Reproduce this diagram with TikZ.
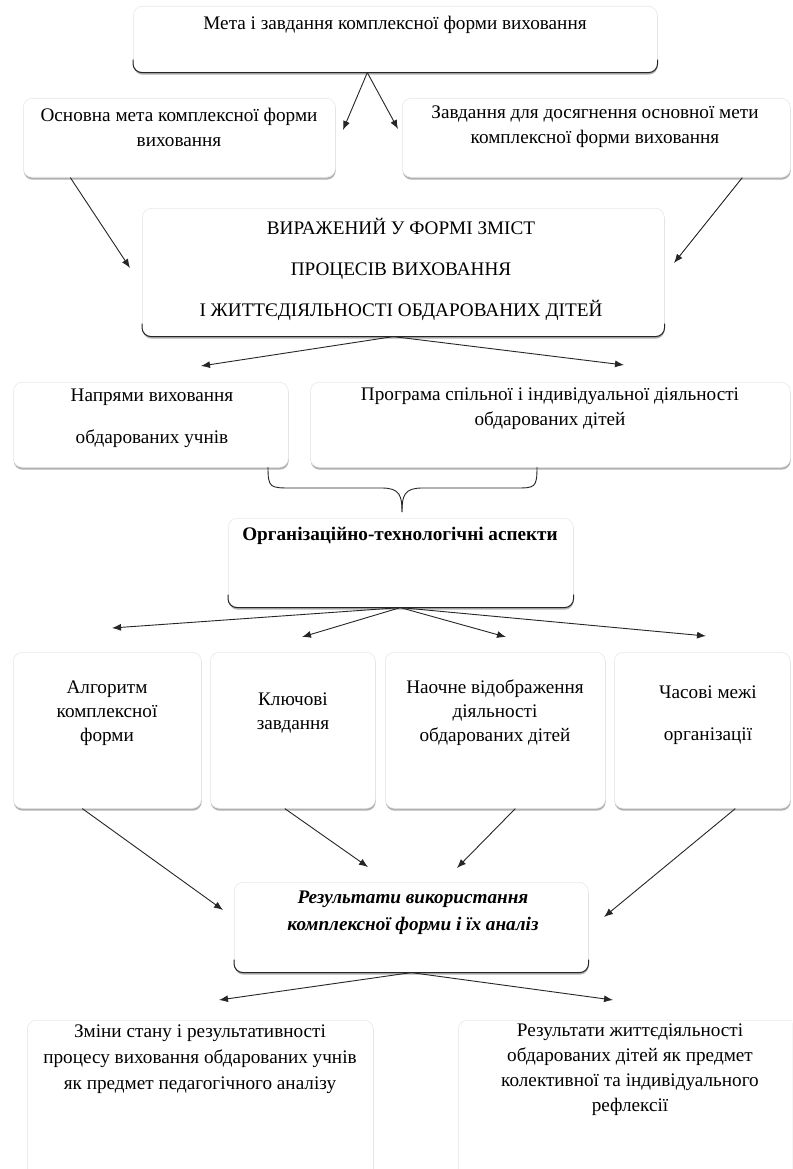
\documentclass[tikz,border=0pt]{standalone}
\usepackage{fontspec}
\setmainfont{Liberation Serif}
\usetikzlibrary{arrows.meta,shadows}
\tikzset{
  box/.style={draw=gray!18, line width=0.6pt, fill=white, rounded corners=9pt, inner sep=0pt,
    drop shadow={shadow xshift=0.4pt, shadow yshift=-2.4pt, fill=gray!75, opacity=0.8}},
  darkedge/.style={draw=black!85, line width=1pt, rounded corners=9pt},
  txt/.style={align=center, inner sep=0pt, font=\fontsize{19.2}{#1}\selectfont},
  txt/.default=25,
  conn/.style={draw=black!85, line width=0.9pt, -{Latex[length=9pt,width=7pt]}},
}
\newcommand\mkbox[5]{\node[box, anchor=north west, minimum width={#4-#2}, minimum height={#5-#3}] (#1) at (#2,#3) {};}
\newcommand\dark[1]{\draw[darkedge] ([yshift=13pt]#1.south west) -- (#1.south west) -- (#1.south east) -- ([yshift=13pt]#1.south east);}
\begin{document}
\begin{tikzpicture}[x=1pt,y=-1pt]
\useasboundingbox[fill=white] (0,0) rectangle (792,1169);
\begin{scope}
\clip (0,0) rectangle (792,1169);
% boxes
\mkbox{b1}{133}{6}{657}{72}
\mkbox{b2}{23}{98}{335}{177}
\mkbox{b3}{402}{98}{790}{177}
\mkbox{b4}{142}{208}{664}{336}
\mkbox{b5}{13}{382}{288}{467}
\mkbox{b6}{310}{382}{790}{467}
\mkbox{b7}{228}{518}{573}{607}
\mkbox{b8}{13}{652}{201}{808}
\mkbox{b9}{210}{652}{375}{808}
\mkbox{b10}{385}{652}{605}{808}
\mkbox{b11}{614}{652}{790}{808}
\mkbox{b12}{234}{882}{588}{972}
\mkbox{b13}{27}{1020}{373}{1190}
\mkbox{b14}{458}{1020}{800}{1190}
\dark{b1}\dark{b4}\dark{b7}\dark{b12}
\end{scope}
% texts
\node[txt] (t1) at (395,25) {Мета і завдання комплексної форми виховання};
\node[txt] (t2) at (179,127) {Основна мета комплексної форми\\виховання};
\node[txt] (t3) at (595,127) {Завдання для досягнення основної мети\\комплексної форми виховання};
\node[txt=41] (t4) at (401,269) {ВИРАЖЕНИЙ У ФОРМІ ЗМІСТ\\ПРОЦЕСІВ ВИХОВАННЯ\\І ЖИТТЄДІЯЛЬНОСТІ ОБДАРОВАНИХ ДІТЕЙ};
\node[txt=42] (t5) at (152,418) {Напрями виховання\\обдарованих учнів};
\node[txt] (t6) at (550,409) {Програма спільної і індивідуальної діяльності\\обдарованих дітей};
\node[txt, font=\fontsize{19.2}{25}\selectfont\bfseries] (t7) at (400,536) {Організаційно-технологічні аспекти};
\node[txt=24] (t8) at (107,713) {Алгоритм\\комплексної\\форми};
\node[txt=24] (t9) at (293,713) {Ключові\\завдання};
\node[txt=24] (t10) at (495,713) {Наочне відображення\\діяльності\\обдарованих дітей};
\node[txt=42] (t11) at (708,715) {Часові межі\\організації};
\node[txt, font=\fontsize{19.2}{27}\selectfont\bfseries\itshape] (t12) at (413,913) {Результати використання\\комплексної форми і їх аналіз};
\node[txt=26] (t13) at (200,1059) {Зміни стану і результативності\\процесу виховання обдарованих учнів\\як предмет педагогічного аналізу};
\node[txt=25] (t14) at (630,1070) {Результати життєдіяльності\\обдарованих дітей як предмет\\колективної та індивідуального\\рефлексії};
% arrow end points
\coordinate (e2) at (343,130);
\coordinate (e3) at (398,129);
\coordinate (e4a) at (130,268);
\coordinate (e4b) at (674,263);
\coordinate (e5) at (201,366);
\coordinate (e6) at (624,365);
\coordinate (e8) at (112,628);
\coordinate (e9) at (302,637);
\coordinate (e10) at (506,637);
\coordinate (e11) at (706,636);
\coordinate (e12a) at (223,910);
\coordinate (e12b) at (368,867);
\coordinate (e12c) at (457,868);
\coordinate (e12d) at (604,917);
\coordinate (e13) at (219,1000);
\coordinate (e14) at (613,1000);
% connectors
\draw[conn] ([xshift=-28pt]b1.south) -- (e2);
\draw[conn] ([xshift=-28pt]b1.south) -- (e3);
\draw[conn] ([xshift=-109pt]b2.south) -- (e4a);
\draw[conn] ([xshift=146pt]b3.south) -- (e4b);
\draw[conn] ([xshift=-10pt]b4.south) -- (e5);
\draw[conn] ([xshift=-10pt]b4.south) -- (e6);
\draw[conn] ([xshift=-0.5pt]b7.south) -- (e8);
\draw[conn] ([xshift=-0.5pt]b7.south) -- (e9);
\draw[conn] ([xshift=-0.5pt]b7.south) -- (e10);
\draw[conn] ([xshift=-0.5pt]b7.south) -- (e11);
\draw[conn] ([xshift=-25pt]b8.south) -- (e12a);
\draw[conn] ([xshift=-8pt]b9.south) -- (e12b);
\draw[conn] ([xshift=20pt]b10.south) -- (e12c);
\draw[conn] ([xshift=33pt]b11.south) -- (e12d);
\draw[conn] (b12.south) -- (e13);
\draw[conn] (b12.south) -- (e14);
% brace
\draw[black!85, line width=0.9pt] (268,467) .. controls (268,488) and (270,488) .. (292,488) -- (382,488) .. controls (400,488) and (402,496) .. (402,512);
\draw[black!85, line width=0.9pt] (537,467) .. controls (537,488) and (535,488) .. (515,488) -- (422,488) .. controls (404,488) and (402,496) .. (402,512);
\end{tikzpicture}
\end{document}
